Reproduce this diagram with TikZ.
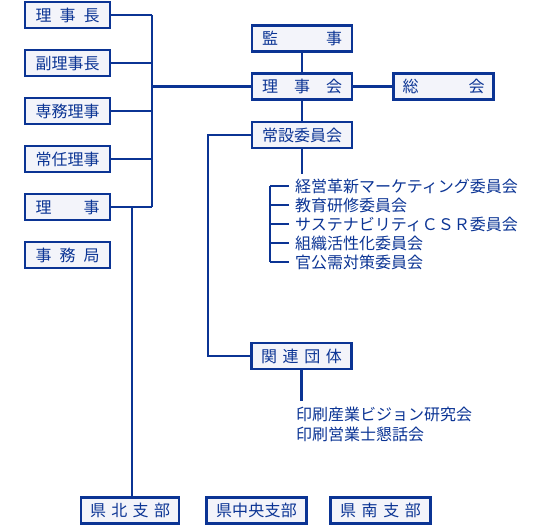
\documentclass[tikz,border=0pt]{standalone}
\usepackage{fontspec}
\setmainfont{Noto Sans CJK JP}
\definecolor{orgblue}{HTML}{0B3494}
\definecolor{orgfill}{HTML}{F3F4FA}
\newcommand{\spread}[2]{\makebox[#1][s]{#2}}
\begin{document}
\begin{tikzpicture}[x=1pt,y=-1pt,
    box/.style={draw=orgblue,fill=orgfill,line width=2.5pt,inner sep=0pt,
      minimum height=26pt,text=orgblue,font=\fontsize{16}{19}\selectfont},
    lbox/.style={box,minimum width=85pt},
    cbox/.style={box,minimum width=100pt},
    item/.style={anchor=west,inner sep=0pt,text=orgblue,font=\fontsize{16}{19}\selectfont},
    conn/.style={draw=orgblue,line width=2.5pt}]
  \useasboundingbox (0,0) rectangle (557,526);
  % left column
  \node[lbox] (rijicho)  at (67.5,15)  {\spread{64pt}{理\hfill 事\hfill 長}};
  \node[lbox] (fukuriji) at (67.5,63)  {\spread{64pt}{副\hfill 理\hfill 事\hfill 長}};
  \node[lbox] (senmu)    at (67.5,111) {\spread{64pt}{専\hfill 務\hfill 理\hfill 事}};
  \node[lbox] (jonin)    at (67.5,159) {\spread{64pt}{常\hfill 任\hfill 理\hfill 事}};
  \node[lbox] (riji)     at (67.5,207) {\spread{64pt}{理\hfill 事}};
  \node[lbox] (jimu)     at (67.5,255) {\spread{64pt}{事\hfill 務\hfill 局}};
  % centre column
  \node[cbox] (kansa)   at (302,38.5)  {\spread{80pt}{監\hfill 事}};
  \node[cbox] (rijikai) at (302,86.5)  {\spread{80pt}{理\hfill 事\hfill 会}};
  \node[cbox] (josetsu) at (302,135)   {\spread{80pt}{常\hfill 設\hfill 委\hfill 員\hfill 会}};
  \node[cbox] (sokai)   at (443.5,86.5) {\spread{82pt}{総\hfill 会}};
  \node[cbox] (kanren)  at (301.5,356) {\spread{81pt}{関\hfill 連\hfill 団\hfill 体}};
  % branches
  \node[cbox,minimum width=98pt] (kenhoku) at (130,510.5)   {\spread{80pt}{県\hfill 北\hfill 支\hfill 部}};
  \node[cbox] (kenchuo) at (256.5,510.5) {\spread{81pt}{県\hfill 中\hfill 央\hfill 支\hfill 部}};
  \node[cbox] (kennan)  at (380.5,510.5) {\spread{81pt}{県\hfill 南\hfill 支\hfill 部}};
  % board bus
  \coordinate (bus) at (152,0);
  \foreach \n in {rijicho,fukuriji,senmu,jonin,riji}
    \draw[conn] (\n.east) -- (\n.east -| bus);
  \draw[conn] (rijicho.east -| bus) -- (riji.east -| bus);
  \draw[conn] (rijikai.west) -- (rijikai.west -| bus);
  \draw[conn] ([xshift=2pt]kenhoku.north) -- ([xshift=2pt]kenhoku.north |- riji.east);
  % centre links
  \draw[conn] (kansa) -- (rijikai);
  \draw[conn] (rijikai) -- (josetsu);
  \draw[conn] (rijikai) -- (sokai);
  \draw[conn] (josetsu.west) -- ++(-43,0) |- (kanren.west);
  % committees
  \draw[conn] (josetsu.south) -- ++(0,25);
  \foreach \t [count=\i] in {経営革新マーケティング委員会,教育研修委員会,
      サステナビリティＣＳＲ委員会,組織活性化委員会,官公需対策委員会}{
    \node[item] (iinkai\i) at (295,167+19*\i) {\t};
    \draw[conn] ([xshift=-6pt]iinkai\i.west) -- ++(-19,0);}
  \draw[conn] ([xshift=-25pt]iinkai1.west) -- ([xshift=-25pt]iinkai5.west);
  % related groups
  \draw[conn] (kanren.south) -- ++(0,31);
  \node[item] (kenkyu) at (296,414) {印刷産業ビジョン研究会};
  \node[item] (kondan) at (296,434) {印刷営業士懇話会};
\end{tikzpicture}
\end{document}
